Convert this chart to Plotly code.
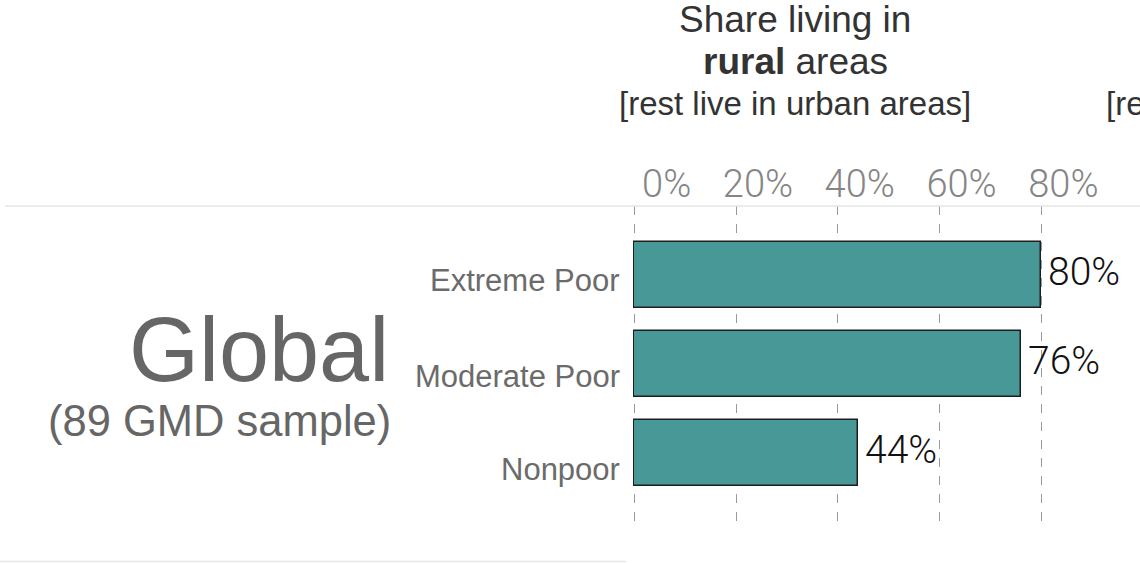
import plotly.graph_objects as go

categories = ["Extreme Poor", "Moderate Poor", "Nonpoor"]
rural_share = [80, 76, 44]
tick_vals = [0, 20, 40, 60, 80]
tick_text = ["0%", "20%", "40%", "60%", "80%"]

# style: vertical pixel offsets of the category labels relative to bar centres
label_yshift = [-6, -13, -16.5]

W, H = 1140, 563
L, T = 633, 206
R = 0
B = H - 527
pw = W - L - R
ph = H - T - B
px_per_unit = 5.09
x0 = -0.25

fig = go.Figure()
fig.add_trace(go.Bar(
    x=rural_share,
    y=list(range(len(categories))),
    orientation="h",
    width=0.74,
    marker=dict(color="#479896", line=dict(color="#1e1e1e", width=1.5)),
    hoverinfo="skip",
))

for i, v in enumerate(rural_share):
    fig.add_annotation(x=v, y=i, xref="x", yref="y", text=f"{v}%",
                       xanchor="left", yanchor="middle", xshift=5, yshift=3,
                       showarrow=False,
                       font=dict(family="Roboto", size=39, color="#111111", weight=300))

for i, c in enumerate(categories):
    fig.add_annotation(x=0, y=i, xref="paper", yref="y", text=c,
                       xanchor="right", yanchor="middle", xshift=-11, yshift=label_yshift[i],
                       showarrow=False,
                       font=dict(family="Liberation Sans", size=31, color="#6b6b6b"))

fig.update_layout(
    width=W, height=H,
    margin=dict(l=L, r=R, t=T, b=B, pad=0),
    paper_bgcolor="white", plot_bgcolor="white",
    showlegend=False,
    bargap=0,
    xaxis=dict(
        side="top", range=[x0, x0 + pw / px_per_unit],
        tickvals=tick_vals, ticktext=tick_text,
        tickfont=dict(family="Roboto", size=38, color="#858585", weight=300),
        ticklabelposition="outside left", ticklabelshift=57,
        showgrid=True, gridcolor="#9a9a9a", gridwidth=1, griddash="dash",
        zeroline=False, showline=False, ticks="", ticklabelstandoff=0,
    ),
    yaxis=dict(
        range=[2.832, -0.775],
        showticklabels=False,
        showgrid=False, zeroline=False, showline=False, ticks="",
    ),
)

def px2paper_x(px):
    return (px - L) / pw

def px2paper_y(py):
    return (H - B - py) / ph

# horizontal rules
fig.add_shape(type="line", xref="paper", yref="paper",
              x0=px2paper_x(5), x1=px2paper_x(1145), y0=px2paper_y(206), y1=px2paper_y(206),
              line=dict(color="#e6e6e6", width=1.5))
fig.add_shape(type="line", xref="paper", yref="paper",
              x0=px2paper_x(0), x1=px2paper_x(626), y0=px2paper_y(561.5), y1=px2paper_y(561.5),
              line=dict(color="#e6e6e6", width=1.5))

def ann(text, x, y, size, color, xanchor="center", family="Liberation Sans", weight=None):
    f = dict(family=family, size=size, color=color)
    if weight:
        f["weight"] = weight
    fig.add_annotation(text=text, xref="paper", yref="paper",
                       x=px2paper_x(x), y=px2paper_y(y), xanchor=xanchor, yanchor="middle",
                       showarrow=False, font=f)

ann("Global", 391, 350, 90, "#666666", xanchor="right")
ann("(89 GMD sample)", 393, 421, 43.5, "#666666", xanchor="right")

ann("Share living in", 795, 20, 37, "#333333")
ann("<b>rural</b> areas", 795, 62, 37, "#333333")
ann("[rest live in urban areas]", 795, 104, 33, "#333333")
ann("[rest live in urban areas]", 1104, 104, 33, "#333333", xanchor="left")

fig.write_html("out.html", config={"displayModeBar": False},
               post_script="document.body.style.margin='0';")
